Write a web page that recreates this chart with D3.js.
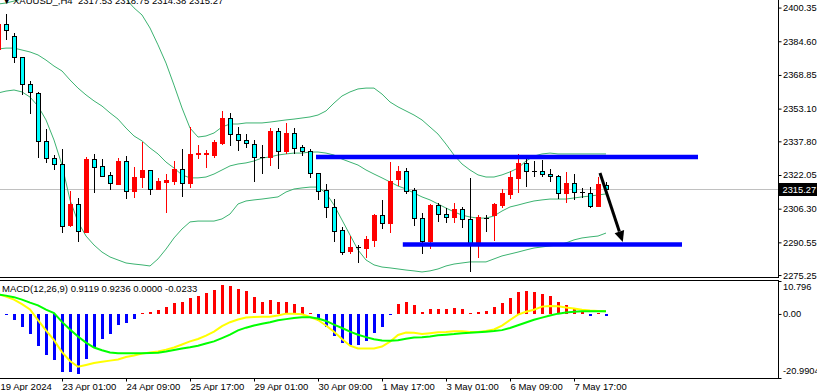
<!DOCTYPE html>
<html>
<head>
<meta charset="utf-8">
<script src="https://cdn.jsdelivr.net/npm/d3@7"></script>
<style>
  body { margin: 0; background: #fff; overflow: hidden; }
  svg { display: block; font-family: "Liberation Sans", Arial, sans-serif; font-size: 9.5px; }
</style>
</head>
<body>
<svg id="chart" width="817" height="391"></svg>
<script>
// XAUUSD H4, bars from 19 Apr 17:00 (index -1) to 8 May 09:00 (index 75)
const firstBar = -1, lastBar = 75;

const opens = [2381.0,2392.5,2387.1,2377.1,2364.6,2360.4,2338.1,2329.9,2327.2,2298.7,2308.5,2295.5,2329.5,2326.3,2322.1,2317.8,2328.6,2314.7,2321.0,2324.4,2315.7,2318.9,2319.4,2324.9,2318.5,2331.9,2331.7,2331.4,2337.2,2348.6,2341.1,2338.4,2336.4,2330.6,2330.3,2342.6,2333.4,2341.6,2335.0,2333.4,2322.9,2315.0,2307.2,2296.3,2286.7,2288.2,2287.8,2291.7,2303.3,2299.7,2320.0,2323.9,2315.0,2301.8,2291.3,2307.9,2303.7,2302.6,2306.2,2301.3,2290.1,2302.1,2303.3,2308.0,2313.2,2320.8,2327.5,2324.1,2324.1,2322.5,2321.6,2313.5,2318.2,2314.0,2313.5,2307.7,2317.53];
const highs = [2394.5,2397.4,2388.3,2377.4,2366.0,2360.9,2343.6,2331.4,2334.2,2314.6,2311.2,2330.6,2331.9,2329.5,2323.6,2330.1,2331.1,2325.9,2337.4,2324.6,2320.5,2322.4,2328.7,2334.2,2344.6,2336.1,2333.7,2338.4,2352.1,2351.2,2344.6,2341.1,2338.4,2336.1,2343.9,2343.9,2346.2,2343.9,2336.1,2334.1,2323.1,2317.8,2310.7,2297.6,2293.5,2289.3,2293.5,2303.8,2310.4,2328.3,2326.3,2325.2,2315.8,2304.4,2308.5,2308.8,2306.5,2308.8,2307.2,2320.5,2303.3,2303.3,2309.1,2315.4,2324.1,2331.9,2329.4,2328.6,2329.1,2324.7,2322.1,2323.6,2322.5,2315.8,2316.6,2321.3,2318.75];
const lows = [2379.6,2385.5,2375.0,2359.9,2351.1,2330.6,2328.3,2324.7,2295.5,2298.3,2291.3,2295.5,2314.2,2321.7,2315.5,2317.8,2311.4,2311.9,2316.6,2313.2,2315.5,2304.9,2317.7,2312.4,2316.6,2330.1,2325.9,2330.3,2336.6,2336.1,2333.8,2335.3,2319.4,2323.1,2326.7,2325.2,2332.2,2332.2,2331.4,2321.3,2310.7,2302.6,2291.3,2285.1,2285.4,2281.5,2283.6,2288.9,2297.1,2295.5,2317.4,2313.5,2298.7,2285.7,2287.8,2300.7,2300.2,2300.2,2297.9,2277.3,2283.6,2296.0,2291.7,2307.2,2311.4,2314.2,2317.1,2321.7,2321.7,2319.4,2311.2,2309.6,2310.7,2311.6,2307.0,2307.6,2314.38];
const closes = [2392.7,2389.7,2377.1,2364.6,2360.7,2338.1,2329.9,2327.2,2298.3,2308.5,2295.9,2329.5,2325.9,2321.7,2318.2,2328.6,2314.7,2321.1,2324.4,2315.7,2319.3,2319.7,2324.9,2318.5,2331.9,2332.5,2332.2,2337.4,2348.9,2341.2,2338.4,2336.9,2330.6,2330.6,2342.6,2333.4,2341.8,2334.5,2333.4,2322.9,2314.7,2307.2,2296.0,2286.2,2288.2,2288.2,2292.0,2303.3,2299.7,2319.3,2323.9,2314.7,2301.8,2291.3,2308.0,2303.7,2302.6,2306.2,2301.3,2290.1,2302.4,2302.1,2308.5,2313.8,2321.0,2327.5,2324.1,2324.1,2322.4,2321.6,2313.5,2318.2,2314.0,2314.0,2307.7,2317.8,2315.27];

// Bollinger bands
const bbUpper = [2402.0,2402.5,2403.4,2404.4,2405.8,2406.7,2407.6,2408.1,2408.6,2408.6,2408.6,2408.1,2407.6,2407.2,2406.2,2405.3,2404.4,2400.2,2396.9,2390.8,2382.9,2374.4,2364.1,2353.4,2344.0,2339.8,2340.3,2341.7,2344.5,2345.9,2345.9,2346.4,2346.4,2346.4,2346.8,2347.3,2347.8,2348.2,2348.7,2349.2,2350.1,2352.0,2355.7,2359.0,2360.9,2362.3,2362.7,2362.7,2359.9,2356.2,2353.9,2352.0,2350.1,2347.8,2344.5,2341.2,2336.5,2331.4,2327.2,2324.4,2322.1,2321.1,2321.1,2322.1,2323.5,2325.3,2328.6,2330.9,2331.9,2332.3,2331.9,2331.9,2331.9,2331.9,2331.9,2331.9,2331.9];
const bbMiddle = [2381.0,2381.4,2381.4,2380.5,2379.6,2378.2,2375.8,2373.0,2370.7,2366.5,2362.7,2359.5,2356.7,2354.3,2351.1,2348.2,2344.0,2340.3,2338.0,2334.7,2331.9,2328.1,2325.3,2322.1,2320.7,2320.7,2321.1,2322.5,2324.4,2326.3,2327.2,2327.7,2328.6,2330.0,2330.5,2331.4,2331.9,2332.3,2332.3,2332.8,2332.8,2332.3,2331.4,2329.5,2328.1,2326.7,2324.4,2322.5,2320.7,2318.8,2316.9,2315.5,2313.6,2311.8,2310.4,2308.5,2306.6,2304.8,2303.3,2302.4,2301.9,2301.9,2302.9,2305.2,2307.1,2308.0,2309.0,2309.9,2310.4,2310.8,2310.8,2310.8,2311.3,2311.8,2312.2,2312.7,2313.2];
const bbLower = [2360.4,2361.3,2361.8,2360.9,2358.5,2354.3,2347.8,2338.4,2326.7,2310.4,2300.1,2293.5,2289.3,2286.0,2283.7,2282.3,2280.9,2280.4,2280.0,2279.5,2282.8,2287.4,2292.6,2296.8,2300.1,2300.5,2300.5,2300.5,2301.5,2303.8,2308.5,2309.9,2310.4,2310.8,2311.3,2311.8,2314.1,2315.5,2316.0,2316.4,2316.4,2313.6,2308.0,2301.0,2294.0,2287.0,2282.3,2280.0,2279.0,2278.6,2278.1,2277.6,2277.2,2276.7,2277.2,2278.1,2279.5,2280.4,2280.9,2281.4,2281.4,2281.4,2282.8,2284.2,2285.1,2286.0,2287.0,2287.9,2288.4,2288.9,2289.3,2290.3,2291.7,2292.6,2293.1,2293.5,2294.9];

// MACD(12,26,9) panel
const macdHist = [-0.1,-0.3,-1.9,-4.4,-6.6,-10.4,-13.5,-15.1,-18.9,-18.9,-19.7,-14.8,-10.9,-8.2,-6.6,-3.6,-2.9,-1.6,0.2,0.5,1.3,2.2,3.5,3.8,5.2,6.0,6.8,8.0,9.4,9.1,8.3,7.4,5.4,4.0,4.7,3.8,4.0,3.2,2.2,0.2,-2.3,-4.2,-7.1,-9.5,-10.2,-10.2,-9.0,-6.3,-4.2,-0.4,3.2,4.0,2.8,0.7,1.6,1.6,1.6,2.0,1.6,0.2,0.7,1.0,2.3,3.6,5.2,7.2,7.5,7.2,6.6,5.9,3.9,2.9,2.0,1.0,-0.5,0.2,-0.5];
const macdYellow = [6.5,5.7,4.7,3.2,1.5,-2.0,-5.4,-8.6,-12.5,-15.4,-17.3,-16.7,-16.1,-15.7,-15.3,-14.9,-14.1,-13.6,-13.0,-12.6,-12.3,-11.7,-11.0,-10.0,-9.0,-8.2,-7.1,-5.8,-4.0,-2.7,-1.8,-1.2,-1.0,-0.9,-0.9,-0.5,0.1,0.1,-0.1,-1.0,-2.0,-3.8,-5.8,-8.2,-10.4,-11.3,-11.3,-11.3,-10.7,-9.1,-6.9,-6.1,-6.2,-6.6,-6.3,-6.0,-5.9,-5.7,-5.7,-5.9,-5.9,-5.6,-5.1,-3.8,-2.0,-0.2,0.7,1.4,2.4,2.6,2.5,2.1,1.8,1.4,1.1,1.0,0.91];
const macdGreen = [6.4,6.0,5.5,4.7,3.7,2.8,1.4,0.3,-2.6,-5.1,-7.4,-9.4,-11.0,-11.9,-12.6,-12.9,-12.9,-12.9,-12.9,-12.8,-12.7,-12.3,-11.8,-11.3,-10.9,-10.4,-9.7,-9.0,-7.9,-6.8,-5.4,-4.5,-3.8,-3.2,-2.7,-2.1,-1.7,-1.3,-1.1,-1.1,-1.5,-2.3,-3.5,-4.6,-5.8,-6.8,-7.6,-8.3,-8.7,-8.8,-8.6,-8.1,-7.7,-7.6,-7.4,-7.0,-6.8,-6.6,-6.3,-6.2,-6.0,-5.8,-5.6,-5.3,-4.6,-3.7,-2.8,-1.9,-1.2,-0.5,0.1,0.5,0.7,0.9,0.9,0.9,0.92];

// axis labels
const priceTicks = [2400.35, 2384.60, 2368.85, 2353.10, 2337.80, 2322.05, 2306.30, 2290.55, 2275.25];
const macdTicks = [10.796, 0, -20.9904];
const macdTickLabels = ["10.796", "0.00", "-20.9904"];
const timeTickBars = [-1, 7, 15, 23, 31, 39, 47, 55, 63, 71];
const timeTickLabels = ["19 Apr 2024", "23 Apr 01:00", "24 Apr 09:00", "25 Apr 17:00", "29 Apr 01:00",
                        "30 Apr 09:00", "1 May 17:00", "3 May 01:00", "6 May 09:00", "7 May 17:00"];

// hand drawn objects: [startBar, endBar, price]
const levelLines = [[38.75, 86.5, 2330.5], [49.6, 84.5, 2289.55]];
const arrowFrom = [74.25, 2323.0];
const arrowTo = [77.1, 2290.7];
const lastPrice = 2315.27;
const headerText = "2317.53 2318.75 2314.38 2315.27";
const macdHeader = "MACD(12,26,9) 0.9119 0.9236 0.0000 -0.0233";

const svg = d3.select("#chart");
const axisX = 778, mainBottom = 277, subTop = 280, subBottom = 378;

const bars = d3.range(firstBar, lastBar + 1);
const x = d3.scaleLinear().domain([-1, 75]).range([-2, 606]);
const y = d3.scaleLinear().domain([2272.94, 2403.9]).range([280, 0]);
const ym = d3.scaleLinear().domain([-20.9904, 10.796]).range([378, 281]);

const defs = svg.append("defs");
defs.append("clipPath").attr("id", "clipMain")
    .append("rect").attr("x", 0).attr("y", 0).attr("width", axisX).attr("height", mainBottom);
defs.append("clipPath").attr("id", "clipSub")
    .append("rect").attr("x", 0).attr("y", subTop + 1).attr("width", axisX).attr("height", subBottom - subTop - 1);

const main = svg.append("g").attr("clip-path", "url(#clipMain)");

// last price line
main.append("line")
    .attr("x1", 0).attr("x2", axisX)
    .attr("y1", Math.round(y(lastPrice)) + 0.5).attr("y2", Math.round(y(lastPrice)) + 0.5)
    .attr("stroke", "#c0c0c0");

// Bollinger bands
const bandLine = d3.line().x((d, i) => x(bars[i])).y(d => y(d));
[bbUpper, bbMiddle, bbLower].forEach(band => {
    main.append("path")
        .attr("d", bandLine(band))
        .attr("fill", "none")
        .attr("stroke", "#3cb371")
        .attr("stroke-width", 1);
});

// candles
const candles = bars.map((k, i) => ({ k, o: opens[i], h: highs[i], l: lows[i], c: closes[i] }));
const cg = main.selectAll(".candle").data(candles).enter().append("g").attr("class", "candle");

cg.append("line")
    .attr("x1", d => Math.round(x(d.k)) + 0.5)
    .attr("x2", d => Math.round(x(d.k)) + 0.5)
    .attr("y1", d => Math.round(y(d.h)))
    .attr("y2", d => Math.round(y(d.l)) + 1)
    .attr("stroke", d => d.c > d.o ? "#ff0000" : "#000000")
    .attr("shape-rendering", "crispEdges");

cg.filter(d => d.c !== d.o).append("rect")
    .attr("x", d => Math.round(x(d.k)) - 1.5)
    .attr("y", d => Math.round(y(Math.max(d.o, d.c))) + 0.5)
    .attr("width", 4)
    .attr("height", d => Math.max(0, Math.round(y(Math.min(d.o, d.c))) - Math.round(y(Math.max(d.o, d.c)))))
    .attr("fill", d => d.c > d.o ? "#ff0000" : "#00ffff")
    .attr("stroke", d => d.c > d.o ? "#ff0000" : "#000000")
    .attr("shape-rendering", "crispEdges");

cg.filter(d => d.c === d.o).append("line")
    .attr("x1", d => Math.round(x(d.k)) - 2)
    .attr("x2", d => Math.round(x(d.k)) + 3)
    .attr("y1", d => Math.round(y(d.o)) + 0.5)
    .attr("y2", d => Math.round(y(d.o)) + 0.5)
    .attr("stroke", "#000")
    .attr("shape-rendering", "crispEdges");

// drawn support / resistance lines
main.selectAll(".level").data(levelLines).enter().append("line")
    .attr("class", "level")
    .attr("x1", d => x(d[0])).attr("x2", d => x(d[1]))
    .attr("y1", d => y(d[2])).attr("y2", d => y(d[2]))
    .attr("stroke", "#0000ff")
    .attr("stroke-width", 4.5);

// arrow
const ax1 = x(arrowFrom[0]), ay1 = y(arrowFrom[1]);
const ax2 = x(arrowTo[0]), ay2 = y(arrowTo[1]);
const len = Math.hypot(ax2 - ax1, ay2 - ay1);
const ux = (ax2 - ax1) / len, uy = (ay2 - ay1) / len;
const headLen = 11, headW = 5;
const bx = ax2 - ux * headLen, by = ay2 - uy * headLen;
main.append("line")
    .attr("x1", ax1).attr("y1", ay1).attr("x2", bx).attr("y2", by)
    .attr("stroke", "#000").attr("stroke-width", 3);
main.append("path")
    .attr("d", `M${ax2},${ay2}L${bx - uy * headW},${by + ux * headW}L${bx + uy * headW},${by - ux * headW}Z`)
    .attr("fill", "#000");

// header (the terminal window cuts it at the top edge)
const title = svg.append("text").attr("y", 4).attr("fill", "#000");
title.append("tspan").attr("x", 2).text("\u25BC");
title.append("tspan").attr("x", 13).text("XAUUSD_,H4");
title.append("tspan").attr("x", 78).text(headerText);

// MACD panel
const sub = svg.append("g").attr("clip-path", "url(#clipSub)");
sub.selectAll(".hist").data(macdHist).enter().append("rect")
    .attr("class", "hist")
    .attr("x", (d, i) => Math.round(x(bars[i])) - 1)
    .attr("width", 3)
    .attr("y", d => Math.round(Math.min(ym(d), ym(0))))
    .attr("height", d => Math.max(1, Math.round(Math.abs(ym(d) - ym(0)))))
    .attr("fill", d => d >= 0 ? "#ff0000" : "#0000ff")
    .attr("shape-rendering", "crispEdges");

const macdLine = d3.line().x((d, i) => x(bars[i])).y(d => ym(d));
sub.append("path").attr("d", macdLine(macdYellow))
    .attr("fill", "none").attr("stroke", "#ffff00").attr("stroke-width", 2);
sub.append("path").attr("d", macdLine(macdGreen))
    .attr("fill", "none").attr("stroke", "#00ff00").attr("stroke-width", 2);

svg.append("text").attr("x", 2).attr("y", 292).attr("fill", "#000").text(macdHeader);

// frames
const frame = svg.append("g").attr("stroke", "#000").attr("shape-rendering", "crispEdges");
frame.append("line").attr("x1", 0).attr("x2", axisX + 1).attr("y1", mainBottom + 0.5).attr("y2", mainBottom + 0.5);
frame.append("line").attr("x1", 0).attr("x2", axisX + 1).attr("y1", subTop + 0.5).attr("y2", subTop + 0.5);
frame.append("line").attr("x1", 0).attr("x2", axisX + 1).attr("y1", subBottom + 0.5).attr("y2", subBottom + 0.5);
frame.append("line").attr("x1", axisX + 0.5).attr("x2", axisX + 0.5).attr("y1", 0).attr("y2", mainBottom + 1);
frame.append("line").attr("x1", axisX + 0.5).attr("x2", axisX + 0.5).attr("y1", subTop).attr("y2", subBottom + 1);

// price axis
const priceAxis = svg.append("g")
    .attr("transform", `translate(${axisX + 0.5},0)`)
    .call(d3.axisRight(y).tickValues(priceTicks).tickSize(3).tickSizeOuter(0).tickPadding(1.5)
        .tickFormat(d3.format(".2f")));
priceAxis.select(".domain").remove();
priceAxis.selectAll("text").attr("font-family", "Liberation Sans, Arial, sans-serif").attr("font-size", "9.3px").attr("fill", "#000");
priceAxis.selectAll("line").attr("stroke", "#000");

// last price tag
const tagY = Math.round(y(lastPrice));
svg.append("rect").attr("x", axisX + 1).attr("y", tagY - 6).attr("width", 40).attr("height", 13).attr("fill", "#000");
svg.append("text").attr("x", axisX + 4.5).attr("y", tagY + 3.5).attr("fill", "#fff")
    .attr("font-size", "9.3px").text(lastPrice.toFixed(2));

// MACD axis
const macdAxis = svg.append("g")
    .attr("transform", `translate(${axisX + 0.5},0)`)
    .call(d3.axisRight(ym).tickValues(macdTicks).tickSize(3).tickSizeOuter(0).tickPadding(1.5)
        .tickFormat((d, i) => macdTickLabels[i]));
macdAxis.select(".domain").remove();
macdAxis.selectAll("text").attr("font-family", "Liberation Sans, Arial, sans-serif").attr("font-size", "9.3px").attr("fill", "#000")
    .attr("dy", (d, i) => i === 0 ? "0.95em" : i === 2 ? "-0.45em" : "0.32em");
macdAxis.selectAll("line").attr("stroke", "#000");

// time axis
const timeAxis = svg.append("g")
    .attr("transform", `translate(0,${subBottom + 0.5})`)
    .call(d3.axisBottom(x).tickValues(timeTickBars).tickSize(3).tickSizeOuter(0).tickPadding(2)
        .tickFormat((d, i) => timeTickLabels[i]));
timeAxis.select(".domain").remove();
timeAxis.selectAll("text").attr("text-anchor", "start")
    .attr("font-family", "Liberation Sans, Arial, sans-serif").attr("font-size", "9.5px").attr("fill", "#000")
    .attr("dx", (d, i) => i === 0 ? 2 : 0);
timeAxis.selectAll("line").attr("stroke", "#000");
</script>
</body>
</html>
